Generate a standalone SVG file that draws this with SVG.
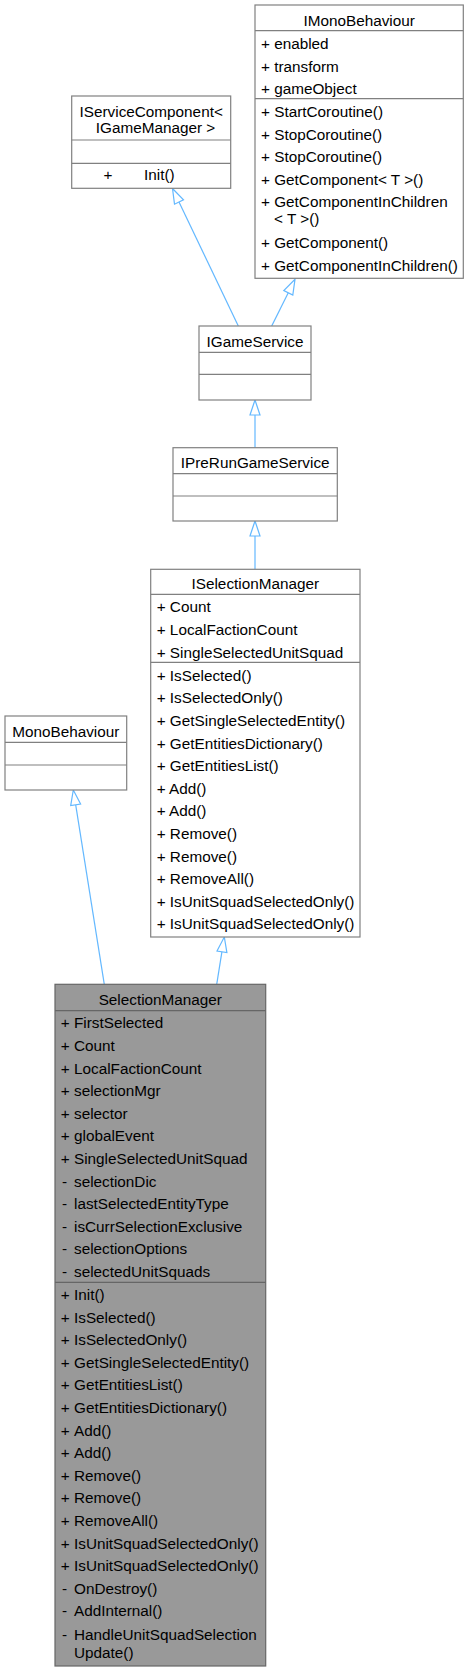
<svg xmlns="http://www.w3.org/2000/svg" width="469" height="1672" viewBox="0 0 469 1672">
<style>
text{font-family:"Liberation Sans",Arial,sans-serif;font-size:15.3px;fill:#000}
.c{text-anchor:middle}
.box{fill:#fff;stroke:#808080;stroke-width:1.2}
.sel{fill:#999;stroke:#666;stroke-width:1.2}
.sep{stroke:#808080;stroke-width:1.2}
.sep2{stroke:#666;stroke-width:1.2}
.edge{stroke:#63b8ff;stroke-width:1.2;fill:none}
.head{stroke:#63b8ff;stroke-width:1.2;fill:#fff}
</style>
<rect width="469" height="1672" fill="#fff"/>
<g id="edges">
<line class="edge" x1="238.3" y1="326" x2="179" y2="202"/>
<polygon class="head" points="172.5,188.5 183.5,199.9 174.5,204.2"/>
<line class="edge" x1="271.7" y1="326" x2="288.3" y2="292.7"/>
<polygon class="head" points="295,279.3 292.8,295 283.8,290.5"/>
<line class="edge" x1="255" y1="447.7" x2="255" y2="415"/>
<polygon class="head" points="255,400 260,415 250,415"/>
<line class="edge" x1="255" y1="569.3" x2="255" y2="536"/>
<polygon class="head" points="255,521 260,536 250,536"/>
<line class="edge" x1="104.3" y1="984.3" x2="75.7" y2="804.8"/>
<polygon class="head" points="73.3,790 80.6,804 70.7,805.6"/>
<line class="edge" x1="216.7" y1="984.3" x2="221.9" y2="951.8"/>
<polygon class="head" points="224.3,937 226.9,952.6 217,951"/>
</g>
<g id="IMonoBehaviour">
<rect class="box" x="255" y="5" width="208.3" height="273.3"/>
<line class="sep" x1="255" y1="30.7" x2="463.3" y2="30.7"/>
<line class="sep" x1="255" y1="98.7" x2="463.3" y2="98.7"/>
<text class="c" x="359.2" y="26">IMonoBehaviour</text>
<text x="261" y="49">+ enabled</text>
<text x="261" y="71.7">+ transform</text>
<text x="261" y="94.3">+ gameObject</text>
<text x="261" y="117">+ StartCoroutine()</text>
<text x="261" y="139.6">+ StopCoroutine()</text>
<text x="261" y="162.2">+ StopCoroutine()</text>
<text x="261" y="184.9">+ GetComponent&lt; T &gt;()</text>
<text x="261" y="206.7">+ GetComponentInChildren</text>
<text x="274" y="224">&lt; T &gt;()</text>
<text x="261" y="248.3">+ GetComponent()</text>
<text x="261" y="271">+ GetComponentInChildren()</text>
</g>
<g id="IServiceComponent">
<rect class="box" x="71.7" y="96" width="159" height="92.3"/>
<line class="sep" x1="71.7" y1="140" x2="230.7" y2="140"/>
<line class="sep" x1="71.7" y1="163.3" x2="230.7" y2="163.3"/>
<text class="c" x="151.2" y="117.3">IServiceComponent&lt;</text>
<text class="c" x="155.5" y="133.3">IGameManager &gt;</text>
<text x="103.5" y="180">+</text>
<text x="144" y="180">Init()</text>
</g>
<g id="IGameService">
<rect class="box" x="199" y="326" width="112" height="74"/>
<line class="sep" x1="199" y1="352.3" x2="311" y2="352.3"/>
<line class="sep" x1="199" y1="374.3" x2="311" y2="374.3"/>
<text class="c" x="255" y="346.7">IGameService</text>
</g>
<g id="IPreRunGameService">
<rect class="box" x="173" y="447.7" width="164.3" height="73.3"/>
<line class="sep" x1="173" y1="473.7" x2="337.3" y2="473.7"/>
<line class="sep" x1="173" y1="496" x2="337.3" y2="496"/>
<text class="c" x="255.2" y="468.3">IPreRunGameService</text>
</g>
<g id="ISelectionManager">
<rect class="box" x="150.7" y="569.3" width="209.3" height="367.7"/>
<line class="sep" x1="150.7" y1="594.3" x2="360" y2="594.3"/>
<line class="sep" x1="150.7" y1="662.3" x2="360" y2="662.3"/>
<text class="c" x="255.3" y="589.3">ISelectionManager</text>
<text x="156.7" y="612.3">+ Count</text>
<text x="156.7" y="635">+ LocalFactionCount</text>
<text x="156.7" y="657.5">+ SingleSelectedUnitSquad</text>
<text x="156.7" y="680.7">+ IsSelected()</text>
<text x="156.7" y="703.3">+ IsSelectedOnly()</text>
<text x="156.7" y="725.9">+ GetSingleSelectedEntity()</text>
<text x="156.7" y="748.5">+ GetEntitiesDictionary()</text>
<text x="156.7" y="771.1">+ GetEntitiesList()</text>
<text x="156.7" y="793.7">+ Add()</text>
<text x="156.7" y="816.3">+ Add()</text>
<text x="156.7" y="838.9">+ Remove()</text>
<text x="156.7" y="861.5">+ Remove()</text>
<text x="156.7" y="884.1">+ RemoveAll()</text>
<text x="156.7" y="906.7">+ IsUnitSquadSelectedOnly()</text>
<text x="156.7" y="929.3">+ IsUnitSquadSelectedOnly()</text>
</g>
<g id="MonoBehaviour">
<rect class="box" x="5" y="716" width="121.7" height="74"/>
<line class="sep" x1="5" y1="742.3" x2="126.7" y2="742.3"/>
<line class="sep" x1="5" y1="765" x2="126.7" y2="765"/>
<text class="c" x="65.8" y="736.7">MonoBehaviour</text>
</g>
<g id="SelectionManager">
<rect class="sel" x="55" y="984.3" width="210.7" height="681.7"/>
<line class="sep2" x1="55" y1="1010.7" x2="265.7" y2="1010.7"/>
<line class="sep2" x1="55" y1="1282.3" x2="265.7" y2="1282.3"/>
<text class="c" x="160.3" y="1005">SelectionManager</text>
<g>
<text x="60.7" y="1028.3">+</text><text x="74" y="1028.3">FirstSelected</text>
<text x="60.7" y="1050.9">+</text><text x="74" y="1050.9">Count</text>
<text x="60.7" y="1073.5">+</text><text x="74" y="1073.5">LocalFactionCount</text>
<text x="60.7" y="1096.1">+</text><text x="74" y="1096.1">selectionMgr</text>
<text x="60.7" y="1118.7">+</text><text x="74" y="1118.7">selector</text>
<text x="60.7" y="1141.3">+</text><text x="74" y="1141.3">globalEvent</text>
<text x="60.7" y="1163.9">+</text><text x="74" y="1163.9">SingleSelectedUnitSquad</text>
<text x="62" y="1186.5">-</text><text x="74" y="1186.5">selectionDic</text>
<text x="62" y="1209.1">-</text><text x="74" y="1209.1">lastSelectedEntityType</text>
<text x="62" y="1231.7">-</text><text x="74" y="1231.7">isCurrSelectionExclusive</text>
<text x="62" y="1254.3">-</text><text x="74" y="1254.3">selectionOptions</text>
<text x="62" y="1276.9">-</text><text x="74" y="1276.9">selectedUnitSquads</text>
</g>
<g>
<text x="60.7" y="1300">+</text><text x="74" y="1300">Init()</text>
<text x="60.7" y="1322.6">+</text><text x="74" y="1322.6">IsSelected()</text>
<text x="60.7" y="1345.2">+</text><text x="74" y="1345.2">IsSelectedOnly()</text>
<text x="60.7" y="1367.8">+</text><text x="74" y="1367.8">GetSingleSelectedEntity()</text>
<text x="60.7" y="1390.4">+</text><text x="74" y="1390.4">GetEntitiesList()</text>
<text x="60.7" y="1413">+</text><text x="74" y="1413">GetEntitiesDictionary()</text>
<text x="60.7" y="1435.6">+</text><text x="74" y="1435.6">Add()</text>
<text x="60.7" y="1458.2">+</text><text x="74" y="1458.2">Add()</text>
<text x="60.7" y="1480.8">+</text><text x="74" y="1480.8">Remove()</text>
<text x="60.7" y="1503.4">+</text><text x="74" y="1503.4">Remove()</text>
<text x="60.7" y="1526">+</text><text x="74" y="1526">RemoveAll()</text>
<text x="60.7" y="1548.6">+</text><text x="74" y="1548.6">IsUnitSquadSelectedOnly()</text>
<text x="60.7" y="1571.2">+</text><text x="74" y="1571.2">IsUnitSquadSelectedOnly()</text>
<text x="62" y="1593.8">-</text><text x="74" y="1593.8">OnDestroy()</text>
<text x="62" y="1616.4">-</text><text x="74" y="1616.4">AddInternal()</text>
<text x="62" y="1639.5">-</text><text x="74" y="1639.5">HandleUnitSquadSelection</text>
<text x="74" y="1657.5">Update()</text>
</g>
</g>
</svg>
